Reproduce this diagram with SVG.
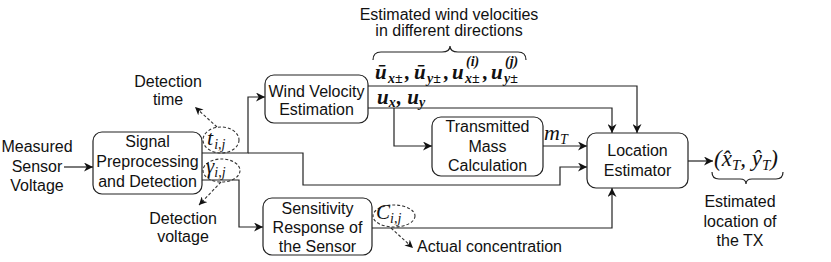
<svg xmlns="http://www.w3.org/2000/svg" width="831" height="262" viewBox="0 0 831 262">
<defs>
<style>
.box{fill:#fff;stroke:#222;stroke-width:1.2}
.lbl{font-family:"Liberation Sans",Arial,sans-serif;font-size:16px;fill:#111;text-anchor:middle}
.lblL{font-family:"Liberation Sans",Arial,sans-serif;font-size:16px;fill:#111}
.m{font-family:"Liberation Serif","Times New Roman",serif;font-style:italic;fill:#111}
.mb{font-family:"Liberation Serif","Times New Roman",serif;font-style:italic;font-weight:bold;fill:#111;font-size:21px}
.sb{font-family:"Liberation Serif","Times New Roman",serif;font-style:italic;font-weight:bold;fill:#111;font-size:14px}
.ln{fill:none;stroke:#222;stroke-width:1.2}
.dl{fill:none;stroke:#333;stroke-width:1.1;stroke-dasharray:3,2}
</style>
<marker id="arr" viewBox="0 0 10 10" refX="10" refY="5" markerWidth="9" markerHeight="9" markerUnits="userSpaceOnUse" orient="auto"><path d="M0,0 L10,5 L0,10 L3,5 z" fill="#111"/></marker>
<marker id="darr" viewBox="0 0 10 10" refX="10" refY="5" markerWidth="8" markerHeight="8" markerUnits="userSpaceOnUse" orient="auto"><path d="M0,0 L10,5 L0,10 L3,5 z" fill="#111"/></marker>
</defs>

<g id="connectors">
<path class="ln" d="M64,167 H93" marker-end="url(#arr)"/>
<path class="ln" d="M202,153 H248 V97 H265" marker-end="url(#arr)"/>
<path class="ln" d="M248,153 H303 V185 H560 V167 H587" marker-end="url(#arr)"/>
<path class="ln" d="M202,180 H239 V227 H263" marker-end="url(#arr)"/>
<path class="ln" d="M368,86 H637 V133" marker-end="url(#arr)"/>
<path class="ln" d="M368,108 H612 V133" marker-end="url(#arr)"/>
<path class="ln" d="M394,108 V146 H432" marker-end="url(#arr)"/>
<path class="ln" d="M543,146 H587" marker-end="url(#arr)"/>
<path class="ln" d="M372,228 H612 V188" marker-end="url(#arr)"/>
<path class="ln" d="M688,161 H713" marker-end="url(#arr)"/>
<path class="dl" d="M217,127 L195,107" marker-end="url(#darr)"/>
<path class="dl" d="M221,182 L199,205" marker-end="url(#darr)"/>
<path class="dl" d="M391,228 L413,248" marker-end="url(#darr)"/>
</g>

<g id="input-label">
<text class="lbl" x="37" y="152">Measured</text>
<text class="lbl" x="37" y="172">Sensor</text>
<text class="lbl" x="37" y="191">Voltage</text>
</g>

<g id="signal">
<rect class="box" x="93" y="132" width="109" height="62" rx="9"/>
<text class="lbl" x="147.5" y="147">Signal</text>
<text class="lbl" x="147.5" y="167">Preprocessing</text>
<text class="lbl" x="147.5" y="187">and Detection</text>
</g>

<g id="wind">
<rect class="box" x="265" y="75" width="103" height="48" rx="9"/>
<text class="lbl" x="316.5" y="97">Wind Velocity</text>
<text class="lbl" x="316.5" y="115">Estimation</text>
</g>

<g id="mass">
<rect class="box" x="432" y="117" width="111" height="59" rx="9"/>
<text class="lbl" x="487.5" y="132">Transmitted</text>
<text class="lbl" x="487.5" y="151.5">Mass</text>
<text class="lbl" x="487.5" y="171">Calculation</text>
</g>

<g id="location">
<rect class="box" x="587" y="133" width="101" height="55" rx="9"/>
<text class="lbl" x="637.5" y="156">Location</text>
<text class="lbl" x="637.5" y="176">Estimator</text>
</g>

<g id="sensitivity">
<rect class="box" x="263" y="198" width="109" height="57" rx="9"/>
<text class="lbl" x="317.5" y="214">Sensitivity</text>
<text class="lbl" x="317.5" y="233">Response of</text>
<text class="lbl" x="317.5" y="252">the Sensor</text>
</g>

<g id="annotations">
<text class="lbl" x="168" y="87">Detection</text>
<text class="lbl" x="168" y="105">time</text>
<text class="lbl" x="183" y="224">Detection</text>
<text class="lbl" x="183" y="242">voltage</text>
<text class="lblL" x="417" y="252">Actual concentration</text>
<text class="lbl" x="449" y="20">Estimated wind velocities</text>
<text class="lbl" x="449" y="36">in different directions</text>
<text class="lbl" x="740" y="207">Estimated</text>
<text class="lbl" x="740" y="227">location of</text>
<text class="lbl" x="740" y="246">the TX</text>

<ellipse class="dl" cx="221" cy="140" rx="18" ry="13"/>
<ellipse class="dl" cx="221.5" cy="170.5" rx="18.5" ry="11.5"/>
<ellipse class="dl" cx="394" cy="216" rx="21" ry="11"/>

<text class="m" x="207" y="145" font-size="22">t<tspan font-size="14" dy="4" dx="1">i,j</tspan></text>
<text class="m" x="206" y="173" font-size="21">γ<tspan font-size="14" dy="4">i,j</tspan></text>
<text class="m" x="376" y="219" font-size="21">C<tspan font-size="14" dy="4">i,j</tspan></text>

<text class="mb" x="375" y="79">ū</text>
<text class="sb" x="388" y="82.5">x±</text>
<text class="mb" x="405" y="79">,</text>
<text class="mb" x="414" y="79">ū</text>
<text class="sb" x="427" y="82.5">y±</text>
<text class="mb" x="444" y="79">,</text>
<text class="mb" x="452" y="79">u</text>
<text class="sb" x="465" y="82.5">x±</text>
<text class="sb" x="466" y="66">(i)</text>
<text class="mb" x="483" y="79">,</text>
<text class="mb" x="491" y="79">u</text>
<text class="sb" x="504" y="82.5">y±</text>
<text class="sb" x="505" y="66">(j)</text>

<text class="mb" x="377" y="103.5" font-size="20">u<tspan font-size="14" dy="3">x</tspan><tspan dy="-3" dx="1">, u</tspan><tspan font-size="14" dy="3">y</tspan></text>
<text class="m" x="544" y="140" font-size="22">m<tspan font-size="14" dy="4">T</tspan></text>
<text class="m" x="714" y="166" font-size="23">(x̂<tspan font-size="15" dy="4">T</tspan><tspan dy="-4">, ŷ</tspan><tspan font-size="15" dy="4">T</tspan><tspan dy="-4">)</tspan></text>

<path class="ln" d="M373,60 Q373,52 381,52 H442 Q450,52 450,46 Q450,52 458,52 H518 Q526,52 526,60"/>
<path class="ln" d="M712,172 Q712,179 719,179 H740 Q746,179 746,184 Q746,179 752,179 H776 Q783,179 783,172"/>
</g>
</svg>
